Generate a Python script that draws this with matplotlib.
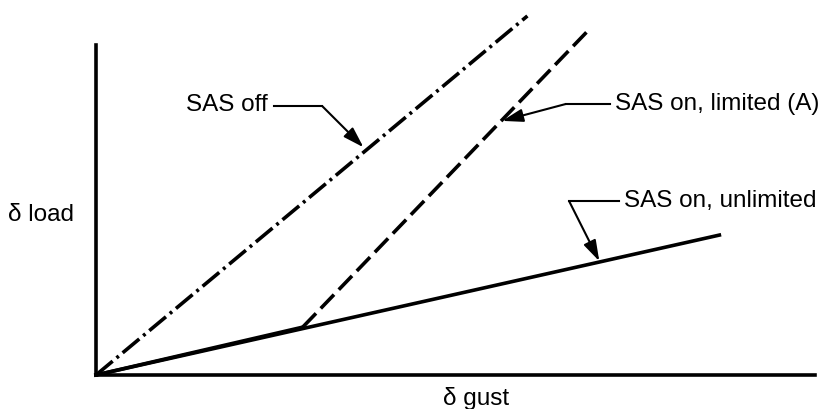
import matplotlib.pyplot as plt

plt.rcParams['font.family'] = ['Liberation Sans', 'DejaVu Sans']

# gust magnitude vs load response (arbitrary units)
gust_off = [0, 6.0]
load_off = [0, 10.88]
gust_unlim = [0, 8.67]
load_unlim = [0, 4.24]
gust_lim = [0, 2.875, 6.85]
load_lim = [0, 1.45, 10.45]

fig = plt.figure(figsize=(8.26, 4.09), dpi=100)
ax = fig.add_axes([96/826, 34/409, 719/826, 341/409])
ax.set_xlim(0, 10)
ax.set_ylim(0, 341/33)

lw = 2.6
ax.plot(gust_off, load_off, color='black', lw=lw, dashes=(6, 1.4, 0.8, 1.4), clip_on=False)
ax.plot(gust_unlim, load_unlim, color='black', lw=lw, clip_on=False)
# limited: follows unlimited line, then breaks away dashed
ax.plot(gust_lim[:2], load_lim[:2], color='black', lw=lw, clip_on=False)
ax.plot(gust_lim[1:], load_lim[1:], color='black', lw=lw, dashes=(5.3, 1.9), clip_on=False)

for s in ['top', 'right']:
    ax.spines[s].set_visible(False)
ax.spines['left'].set_bounds(0, 10)
ax.spines['left'].set_linewidth(2.6)
ax.spines['bottom'].set_linewidth(2.6)
ax.set_xticks([])
ax.set_yticks([])

fs = 17.5
ap = dict(arrowstyle='-|>,head_length=0.7,head_width=0.22', color='black', lw=1.5,
          mutation_scale=18, shrinkA=0, shrinkB=0)

# SAS off
ax.text(2.39, 8.18, 'SAS off', ha='right', va='center', fontsize=fs)
ax.plot([2.48, 3.15], [8.14, 8.14], color='black', lw=1.5)
ax.annotate('', xy=(3.72, 6.9), xytext=(3.15, 8.14), arrowprops=ap)

# SAS on, limited
ax.text(7.22, 8.21, 'SAS on, limited (A)', ha='left', va='center', fontsize=fs, clip_on=False)
ax.plot([7.15, 6.53], [8.21, 8.21], color='black', lw=1.5)
ax.annotate('', xy=(5.65, 7.7), xytext=(6.53, 8.21), arrowprops=ap)

# SAS on, unlimited
ax.text(7.35, 5.27, 'SAS on, unlimited', ha='left', va='center', fontsize=fs)
ax.plot([7.28, 6.58], [5.27, 5.27], color='black', lw=1.5)
ax.annotate('', xy=(7.0, 3.45), xytext=(6.58, 5.27), arrowprops=ap)

ax.text(-0.76, 4.85, '\u03b4 load', ha='center', va='center', fontsize=fs, clip_on=False)
ax.text(5.28, -0.70, '\u03b4 gust', ha='center', va='center', fontsize=fs, clip_on=False)

fig.savefig('out.png', dpi=100)
